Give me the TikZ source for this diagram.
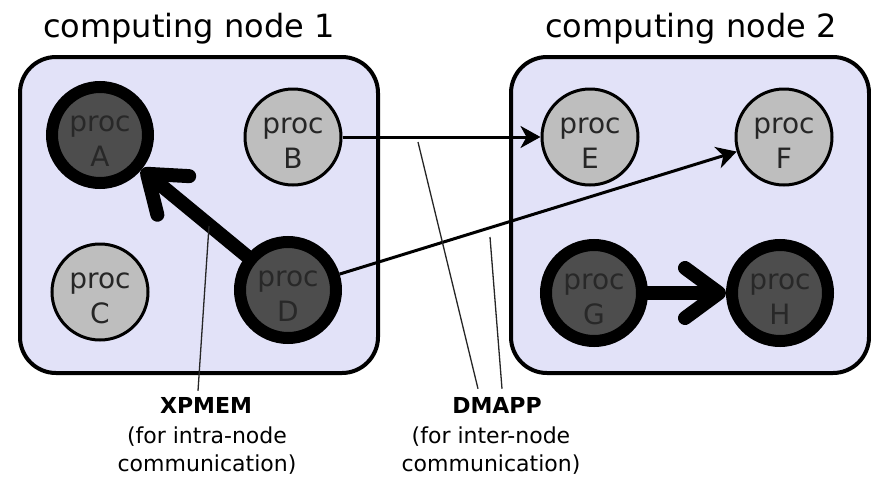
\documentclass[tikz,border=0pt]{standalone}
\usepackage{fontspec}
\setmainfont{DejaVu Sans}
\usetikzlibrary{arrows.meta,calc}
\definecolor{boxfill}{RGB}{226,226,248}
\definecolor{lightproc}{RGB}{190,190,190}
\definecolor{darkproc}{RGB}{77,77,77}
\definecolor{darktext}{RGB}{40,40,40}
\tikzset{
  machine/.style={draw=black, line width=4pt, fill=boxfill, rounded corners=36pt,
    minimum width=358pt, minimum height=316pt, inner sep=0pt},
  title/.style={font=\fontsize{32}{38}\selectfont, anchor=base, inner sep=0pt},
  procbase/.style={circle, draw=black, minimum size=96pt, inner sep=0pt, align=center,
    font=\fontsize{28}{35}\selectfont, text height=62pt, text depth=0pt},
  lightp/.style={procbase, line width=3pt, fill=lightproc, text=black!85},
  darkp/.style={procbase, line width=12pt, fill=darkproc, text=darktext},
  thinarrow/.style={line width=3pt, -{Stealth[length=20pt,width=22pt,inset=6pt]}},
  thickarrow/.style={line width=14pt, line cap=round,
    -{Straight Barb[length=34pt,width=50pt,round]}},
  lbl/.style={font=\bfseries\fontsize{22}{28}\selectfont, anchor=base, inner sep=0pt},
  desc/.style={font=\fontsize{22}{27.5}\selectfont, align=center, anchor=north, inner sep=0pt},
  pointer/.style={line width=1.3pt, black!85},
}
\begin{document}
\begin{tikzpicture}[x=1pt,y=-1pt]
\useasboundingbox (0,0) rectangle (871,477);
% machines
\node[machine] (box1) at (199,215) {};
\node[machine] (box2) at (690,215) {};
\node[title] (t1) at (189,37) {computing node 1};
\node[title] (t2) at (691,37) {computing node 2};
% processes
\node[darkp]  (A) at (100,135) {proc\\A};
\node[lightp] (B) at (293,137) {proc\\B};
\node[lightp] (C) at (100,292) {proc\\C};
\node[darkp]  (D) at (288,290) {proc\\D};
\node[lightp] (E) at (590,137) {proc\\E};
\node[lightp] (F) at (784,137) {proc\\F};
\node[darkp]  (G) at (594,293) {proc\\G};
\node[darkp]  (H) at (780,293) {proc\\H};
% connectors
\draw[thinarrow] (B) -- (E);
\draw[thinarrow] (D) -- (F);
\draw[thickarrow] (D) -- (A);
\draw[thickarrow] (G) -- (H);
% labels
\node[lbl] (xp) at (206,413) {XPMEM};
\node[desc] (xpd) at (207,427) {(for intra-node\\communication)};
\node[lbl] (dm) at (497,413) {DMAPP};
\node[desc] (dmd) at (491,427) {(for inter-node\\communication)};
% pointer lines
\coordinate (xpTop) at (209,226);
\coordinate (dmTop1) at (418,142);
\coordinate (dmTop2) at (490,237);
\draw[pointer] (xpTop) -- ([xshift=-8pt,yshift=6pt]xp.north);
\draw[pointer] (dmTop1) -- ([xshift=-19pt,yshift=8pt]dm.north);
\draw[pointer] (dmTop2) -- ([xshift=5pt,yshift=8pt]dm.north);
\end{tikzpicture}
\end{document}
